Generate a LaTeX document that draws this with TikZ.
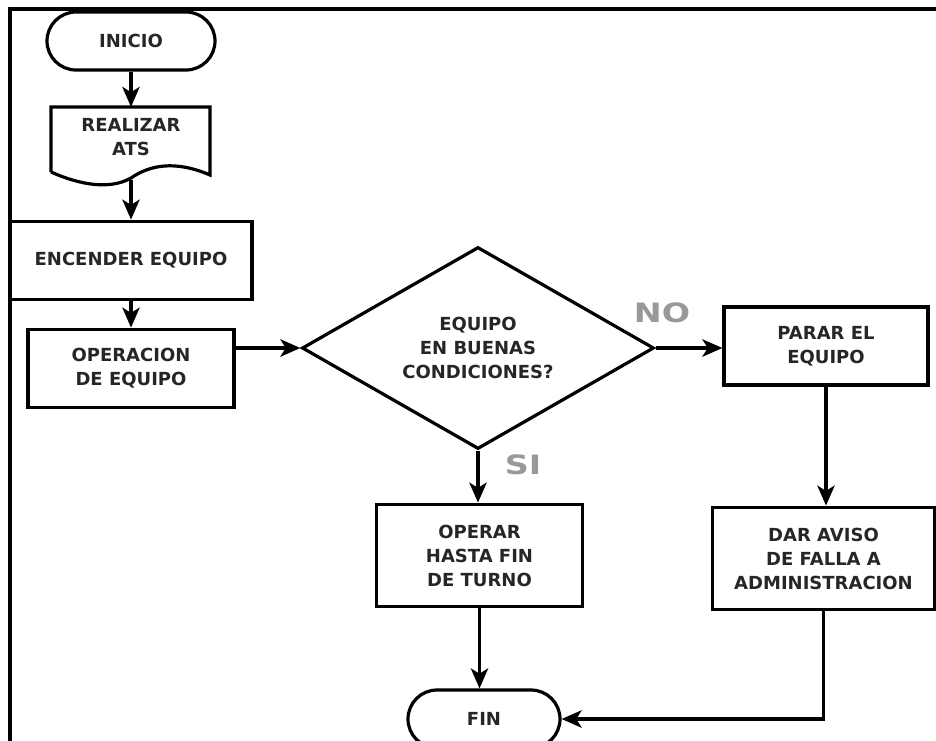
\documentclass[tikz,border=0pt]{standalone}
\usepackage{fontspec}
\setmainfont{DejaVu Sans}
\usetikzlibrary{shapes.geometric,shapes.misc,arrows.meta,calc}
\begin{document}
\begin{tikzpicture}[x=0.75pt,y=-0.75pt,
  lw/.style={line width=2.4pt},
  fnt/.style={font=\bfseries\fontsize{13.5}{18}\selectfont,text=black!85},
  box/.style={draw,lw,rectangle,inner sep=0pt,align=center,fnt},
  term/.style={draw,lw,rounded rectangle,inner sep=0pt,align=center,fnt},
  txt/.style={inner sep=0pt,align=center,fnt},
  arr/.style={lw,-{Stealth[length=15pt,width=13pt,inset=4pt]}},
  lab/.style={inner sep=0pt,font=\bfseries\fontsize{20}{20}\selectfont,text=black!40,xscale=1.25}]
\useasboundingbox (0,0) rectangle (936,740);
\clip (0,0) rectangle (936,740);
% frame
\draw[lw,line width=2.4pt] (10,745) -- (10,9) -- (940,9);
% nodes
\node[term,minimum width=126pt,minimum height=43.5pt] (inicio) at (131,41) {INICIO};
\node[inner sep=0pt,minimum width=119pt,minimum height=56pt] (ats) at (131,144.5) {};
\draw[lw,line join=miter] (51,172) -- (51,107) -- (210,107) -- (210,175)
  .. controls (175,160) and (150,165) .. (131,178)
  .. controls (110,190) and (80,185) .. (51,172);
\node[txt] (atstxt) at (131,137) {REALIZAR\\ATS};
\coordinate (atsbot) at (131,180);
\node[box,minimum width=181.5pt,minimum height=59pt] (enc) at (131,260.5) {ENCENDER EQUIPO};
\node[box,minimum width=154.5pt,minimum height=59pt] (op) at (131,368.5) {OPERACION\\DE EQUIPO};
\node[draw,lw,diamond,aspect=1.74,inner sep=0pt,minimum width=264pt,minimum height=151.5pt,align=center,fnt] (dia) at (478,348) {EQUIPO\\EN BUENAS\\CONDICIONES?};
\node[box,minimum width=153pt,minimum height=58.5pt] (parar) at (826,346) {PARAR EL\\EQUIPO};
\node[box,minimum width=167pt,minimum height=77pt] (aviso) at (823.5,558.5) {DAR AVISO\\DE FALLA A\\ADMINISTRACION};
\node[box,minimum width=154pt,minimum height=77pt] (operar) at (479.5,555.5) {OPERAR\\HASTA FIN\\DE TURNO};
\node[term,minimum width=114pt,minimum height=43.5pt] (fin) at (484,719) {FIN};
\node[lab] (no) at (662,313) {NO};
\node[lab] (si) at (523,465) {SI};
% connectors
\draw[arr] (inicio.south) -- (ats.north);
\draw[arr] (atsbot) -- (enc.north);
\draw[arr] (enc.south) -- (op.north);
\draw[arr] (op.east |- dia.west) -- (dia.west);
\draw[arr] (dia.east) -- (dia.east -| parar.west);
\draw[arr] (dia.south) -- (dia.south |- operar.north);
\draw[arr] (parar.south) -- (parar.south |- aviso.north);
\draw[arr] (operar.south) -- (operar.south |- fin.north);
\draw[arr] (aviso.south) |- (fin.east);
\end{tikzpicture}
\end{document}
